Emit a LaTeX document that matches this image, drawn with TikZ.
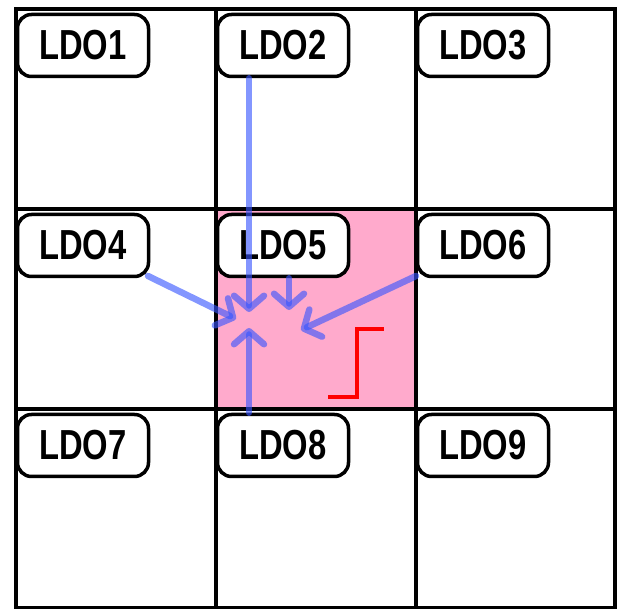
\documentclass[tikz,border=0pt]{standalone}
\usepackage{fontspec}
\newfontfamily\lbl[FakeStretch=0.78]{Liberation Sans}
\usetikzlibrary{arrows.meta}
\definecolor{cellpink}{RGB}{255,170,204}
\definecolor{flowblue}{RGB}{55,85,255}
\definecolor{stepred}{RGB}{255,0,0}
\begin{document}
\begin{tikzpicture}[x=1pt,y=-1pt,
  gridline/.style={draw=black,line width=3.3pt},
  ldobox/.style={draw=black,line width=3.5pt,fill=white,rounded corners=14pt,
    minimum width=131pt,minimum height=62pt,inner sep=0pt,
    font=\lbl\bfseries\fontsize{42}{42}\selectfont},
  flow/.style={draw=flowblue,draw opacity=0.62,line width=6.5pt,line cap=round,
    -{Straight Barb[length=13pt,width=30pt,line cap=round,line join=round]}},
  stepline/.style={draw=stepred,line width=4pt}]
\useasboundingbox (0,0) rectangle (619,609);
\fill[cellpink] (216,209) rectangle (416,409);
\draw[gridline] (16,9) rectangle (615,608);
\draw[gridline] (216,9) -- (216,608) (416,9) -- (416,608)
  (16,209) -- (615,209) (16,409) -- (615,409);
\node[ldobox] (l1) at (83,45.5) {\raisebox{2pt}{LDO1}};
\node[ldobox] (l2) at (283,45.5) {\raisebox{2pt}{LDO2}};
\node[ldobox] (l3) at (483,45.5) {\raisebox{2pt}{LDO3}};
\node[ldobox] (l4) at (83,245.5) {\raisebox{2pt}{LDO4}};
\node[ldobox] (l5) at (283,245.5) {\raisebox{2pt}{LDO5}};
\node[ldobox] (l6) at (483,245.5) {\raisebox{2pt}{LDO6}};
\node[ldobox] (l7) at (83,445.5) {\raisebox{2pt}{LDO7}};
\node[ldobox] (l8) at (283,445.5) {\raisebox{2pt}{LDO8}};
\node[ldobox] (l9) at (483,445.5) {\raisebox{2pt}{LDO9}};
\coordinate (t1) at (249,312);
\coordinate (t2) at (289,310);
\coordinate (t3) at (236,319);
\coordinate (t4) at (301,330);
\coordinate (t5) at (249,328);
\coordinate (s4) at (148,276);
\coordinate (s6) at (416,276);
\draw[flow] (l2.south -| t1) -- (t1);
\draw[flow] (l5.south -| t2) -- (t2);
\draw[flow] (s4) -- (t3);
\draw[flow] (s6) -- (t4);
\draw[flow] (l8.north -| t5) -- (t5);
\coordinate (r1) at (328,397);
\coordinate (r2) at (357,397);
\coordinate (r3) at (357,329);
\coordinate (r4) at (384,329);
\draw[stepline] (r1) -- (r2) -- (r3) -- (r4);
\end{tikzpicture}
\end{document}
